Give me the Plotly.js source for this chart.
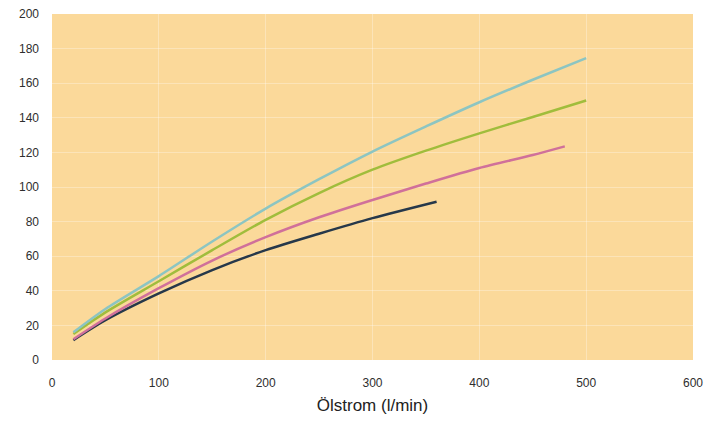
<!DOCTYPE html>
<html>
<head>
<meta charset="utf-8">
<script src="https://cdn.plot.ly/plotly-3.0.1.min.js"></script>
<style>html,body{margin:0;padding:0;background:#fff;}#chart{width:720px;height:430px;}</style>
</head>
<body>
<div id="chart"></div>
<script>
const xCyan = [20, 50, 100, 150, 200, 250, 300, 350, 400, 450, 500];
const yCyan = [16, 29.5, 48.5, 68.5, 87.5, 104.5, 120.5, 135, 149, 162, 174.5];
const xGreen = [20, 50, 100, 150, 200, 250, 300, 350, 400, 450, 500];
const yGreen = [15, 27.5, 45.5, 63.5, 81, 96.5, 110, 121, 131, 140.5, 150];
const xPink = [20, 50, 100, 150, 200, 250, 300, 350, 400, 450, 480];
const yPink = [12, 24, 41.5, 57.5, 71, 82.5, 92.5, 102, 111, 118.5, 123.5];
const xDark = [20, 50, 100, 150, 200, 250, 300, 360];
const yDark = [11.5, 23, 38.5, 52, 63.5, 73, 82, 91.5];
const xTitle = "Ölstrom (l/min)";

function line(x, y, color) {
  return {x: x, y: y, type: 'scatter', mode: 'lines', line: {color: color, width: 2.5, shape: 'spline', smoothing: 0.8}, hoverinfo: 'skip', showlegend: false};
}
const data = [
  line(xDark, yDark, '#26384a'),
  line(xPink, yPink, '#d0709a'),
  line(xGreen, yGreen, '#a0bd3c'),
  line(xCyan, yCyan, '#8cc5c2')
];
const layout = {
  width: 720, height: 430,
  margin: {l: 52, r: 27, t: 14, b: 70},
  paper_bgcolor: '#ffffff',
  plot_bgcolor: '#fbd99a',
  font: {family: 'Liberation Sans, Arial, sans-serif', size: 12, color: '#2e2e2e'},
  xaxis: {
    range: [0, 600], dtick: 100, tick0: 0,
    showgrid: true, gridcolor: 'rgba(255,255,255,0.3)', gridwidth: 1,
    zeroline: false, showline: false, ticks: '',
    ticklabelstandoff: 14,
    title: {text: xTitle, font: {size: 17, color: '#222'}, standoff: 10}
  },
  yaxis: {
    range: [0, 200], dtick: 20, tick0: 0,
    showgrid: true, gridcolor: 'rgba(255,255,255,0.3)', gridwidth: 1,
    zeroline: false, showline: false, ticks: '',
    ticklabelstandoff: 12
  }
};
Plotly.newPlot('chart', data, layout, {displayModeBar: false, staticPlot: true});
</script>
</body>
</html>
